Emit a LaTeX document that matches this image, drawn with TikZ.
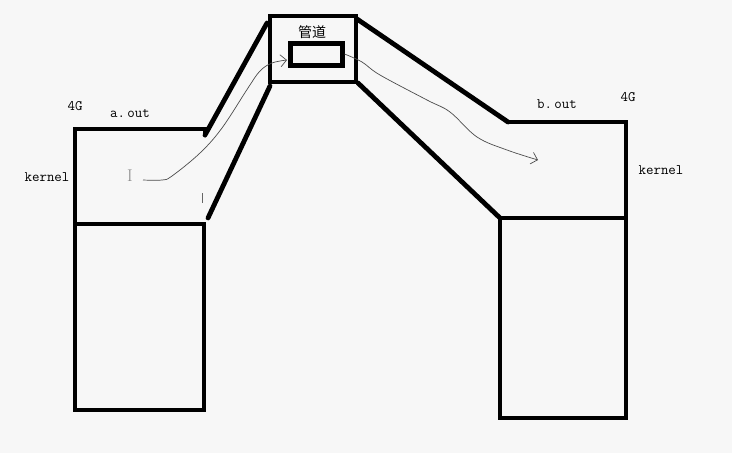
\documentclass[tikz,border=0pt]{standalone}
\usepackage{fontspec}
\newfontfamily\cjk{Noto Sans CJK SC}
\usetikzlibrary{arrows.meta}
\tikzset{
  wall/.style={line width=4.8pt, line cap=round},
  lbl/.style={font=\ttfamily\fontsize{14.5}{16}\selectfont, inner sep=1pt},
  flow/.style={draw=black!70, line width=0.7pt, -{Straight Barb[length=6pt,width=12pt]}}
}
\begin{document}
\begin{tikzpicture}[x=1pt, y=-1pt]
\useasboundingbox[fill=black!3] (0,0) rectangle (732,453);
% left process
\draw[wall] (75,224) -- (75,410) -- (204,410) -- (204,224) -- cycle;
\draw[wall] (75,224) -- (75,129) -- (205,129) -- (205,135);
\draw[line width=1pt, black!60] (202,193) -- (202,203);
% pipe in the middle
\node[draw, wall, minimum width=86, minimum height=66] (pipe) at (313,49) {};
\node[draw, line width=5pt, minimum width=52, minimum height=22] (buf) at (316,54) {};
\node[font=\cjk\fontsize{14}{16}\selectfont, inner sep=0pt] (pipelbl) at (312,32) {管道};
\draw[wall] (205,135) -- (267,23);\draw[wall] (208,218) -- (270,86);
\draw[wall] (357,19) -- (508,122);\draw[wall] (358,83) -- (500,218);
% right process
\draw[wall] (500,218) -- (500,418) -- (626,418) -- (626,218) -- cycle;
\draw[wall] (508,122) -- (626,122) -- (626,218);
% labels
\node[lbl] (lmem) at (75,106) {4G};\node[lbl] (lout) at (130,114) {a.\,out};\node[lbl] (lkern) at (47,177) {kernel};
\node[lbl] (rout) at (557,104) {b.\,out};\node[lbl] (rmem) at (628,97) {4G};\node[lbl] (rkern) at (661,170) {kernel};
\node[font=\rmfamily\fontsize{17}{18}\selectfont, text=black!45, inner sep=0pt] (cursor) at (130,176) {I};
% data flow
\coordinate (src) at (143,180);\coordinate (dst) at (538,160);
\draw[flow] plot[smooth, tension=0.6] coordinates {(src) (162,180) (172,176) (200,153) (222,128) (248,88) (260,71) (272,63) (287,60)};
\draw[flow] plot[smooth, tension=0.6] coordinates {(buf.east) (362,62) (380,75) (427,100) (450,112) (477,137) (507,150) (dst)};
\end{tikzpicture}
\end{document}
